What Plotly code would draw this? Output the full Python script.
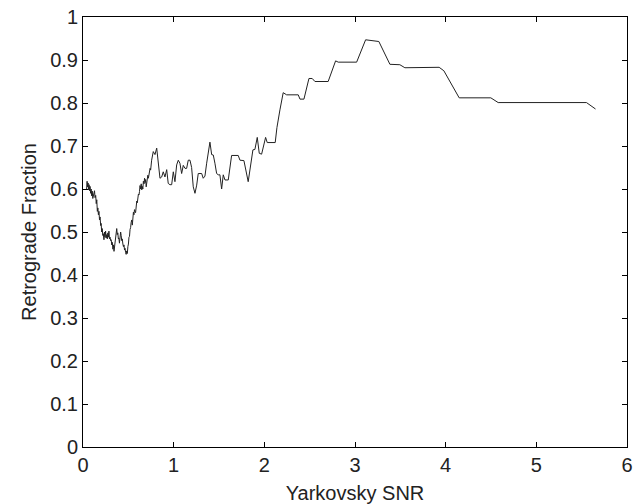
import plotly.graph_objects as go

# Yarkovsky SNR (x) and retrograde fraction (y)
snr = [
    0.040, 0.045, 0.050, 0.056, 0.062, 0.067, 0.073, 0.078, 0.084, 0.090,
    0.096, 0.102, 0.108, 0.114, 0.121, 0.127, 0.133, 0.140, 0.146, 0.152,
    0.158, 0.164, 0.170, 0.176, 0.182, 0.188, 0.195, 0.200, 0.206, 0.212,
    0.218, 0.224, 0.231, 0.237, 0.243, 0.249, 0.255, 0.262, 0.268, 0.274,
    0.280, 0.286, 0.292, 0.298, 0.305, 0.311, 0.317, 0.323, 0.330, 0.336,
    0.342, 0.348, 0.354, 0.360, 0.366, 0.372, 0.378, 0.384, 0.390, 0.396,
    0.402, 0.409, 0.415, 0.421, 0.427, 0.433, 0.440, 0.446, 0.452, 0.458,
    0.464, 0.470, 0.476, 0.482, 0.489, 0.495, 0.501, 0.507, 0.513, 0.519,
    0.525, 0.531, 0.538, 0.544, 0.550, 0.556, 0.562, 0.568, 0.574, 0.580,
    0.587, 0.593, 0.599, 0.605, 0.611, 0.617, 0.623, 0.629, 0.636, 0.642,
    0.648, 0.654, 0.660, 0.666, 0.673, 0.679, 0.685, 0.691, 0.697, 0.703,
    0.709, 0.715, 0.721, 0.728, 0.734, 0.740, 0.746,
    0.757, 0.775, 0.794, 0.813, 0.830, 0.849, 0.868, 0.885, 0.904, 0.923,
    0.940, 0.959, 0.978, 0.996, 1.014, 1.033, 1.051, 1.069, 1.088, 1.106,
    1.125, 1.143, 1.161, 1.180, 1.198, 1.216, 1.235, 1.254, 1.271, 1.309,
    1.326, 1.345, 1.364, 1.381, 1.400, 1.419, 1.437, 1.455, 1.474, 1.492,
    1.510, 1.529, 1.547, 1.566, 1.602, 1.639, 1.712, 1.731, 1.775, 1.822,
    1.874, 1.896, 1.922, 1.944, 1.970, 2.014, 2.032, 2.120, 2.139, 2.172,
    2.208, 2.246, 2.374, 2.393, 2.437, 2.492, 2.528, 2.558, 2.704, 2.786,
    2.815, 3.018, 3.117, 3.263, 3.385, 3.495, 3.550, 3.928, 3.980, 4.149,
    4.498, 4.579, 5.553, 5.653,
]
fraction = [
    0.600, 0.618, 0.605, 0.614, 0.598, 0.610, 0.596, 0.606, 0.590, 0.600,
    0.584, 0.595, 0.578, 0.588, 0.586, 0.596, 0.580, 0.585, 0.566, 0.575,
    0.548, 0.556, 0.540, 0.548, 0.528, 0.535, 0.515, 0.520, 0.500, 0.508,
    0.492, 0.496, 0.482, 0.500, 0.488, 0.502, 0.486, 0.494, 0.484, 0.498,
    0.488, 0.502, 0.484, 0.488, 0.480, 0.482, 0.470, 0.476, 0.460, 0.470,
    0.455, 0.465, 0.472, 0.490, 0.500, 0.508, 0.494, 0.498, 0.484, 0.486,
    0.474, 0.492, 0.500, 0.492, 0.480, 0.484, 0.472, 0.466, 0.470, 0.458,
    0.462, 0.452, 0.448, 0.456, 0.450, 0.466, 0.472, 0.488, 0.490, 0.506,
    0.510, 0.522, 0.528, 0.516, 0.530, 0.546, 0.540, 0.552, 0.548, 0.545,
    0.560, 0.572, 0.568, 0.578, 0.588, 0.586, 0.594, 0.608, 0.600, 0.612,
    0.598, 0.606, 0.600, 0.618, 0.612, 0.625, 0.615, 0.622, 0.605, 0.615,
    0.612, 0.632, 0.625, 0.640, 0.636, 0.648, 0.644,
    0.667, 0.687, 0.680, 0.695, 0.660, 0.625, 0.628, 0.640, 0.628, 0.645,
    0.613, 0.610, 0.610, 0.640, 0.617, 0.656, 0.667, 0.660, 0.636, 0.655,
    0.648, 0.648, 0.667, 0.667, 0.650, 0.605, 0.590, 0.609, 0.636, 0.636,
    0.625, 0.630, 0.660, 0.687, 0.709, 0.680, 0.679, 0.660, 0.636, 0.633,
    0.633, 0.600, 0.633, 0.621, 0.621, 0.678, 0.678, 0.667, 0.666, 0.617,
    0.691, 0.692, 0.720, 0.683, 0.681, 0.720, 0.708, 0.708, 0.743, 0.784,
    0.824, 0.819, 0.819, 0.809, 0.809, 0.857, 0.857, 0.850, 0.850, 0.898,
    0.895, 0.895, 0.947, 0.943, 0.890, 0.889, 0.882, 0.883, 0.875, 0.812,
    0.812, 0.801, 0.801, 0.786,
]

x_ticks = [0, 1, 2, 3, 4, 5, 6]
y_ticks = [0, 0.1, 0.2, 0.3, 0.4, 0.5, 0.6, 0.7, 0.8, 0.9, 1]

FONT = "Liberation Sans, Arial, Helvetica, sans-serif"
FSIZE = 20

fig = go.Figure()
fig.add_trace(go.Scatter(
    x=snr, y=fraction, mode="lines",
    line=dict(color="#222222", width=1),
    showlegend=False, hoverinfo="skip",
))

axis_common = dict(
    showline=True, linecolor="black", linewidth=1, mirror="ticks",
    ticks="inside", ticklen=5, tickcolor="black", tickwidth=1,
    showgrid=False, zeroline=False, automargin=False,
    tickfont=dict(family=FONT, size=FSIZE, color="#222222"),
)

fig.update_layout(
    width=643, height=504,
    margin=dict(l=83, r=16, t=17, b=57),
    paper_bgcolor="white", plot_bgcolor="white",
    font=dict(family=FONT, size=FSIZE, color="#222222"),
    xaxis=dict(range=[0, 6], tickvals=x_ticks,
               title=dict(text="Yarkovsky SNR", standoff=14,
                          font=dict(family=FONT, size=FSIZE, color="#222222")),
               **axis_common),
    yaxis=dict(range=[0, 1], tickvals=y_ticks,
               ticktext=[("%g" % v) for v in y_ticks],
               title=dict(text="Retrograde Fraction", standoff=8,
                          font=dict(family=FONT, size=FSIZE, color="#222222")),
               **axis_common),
)

fig.write_html("out.html")
